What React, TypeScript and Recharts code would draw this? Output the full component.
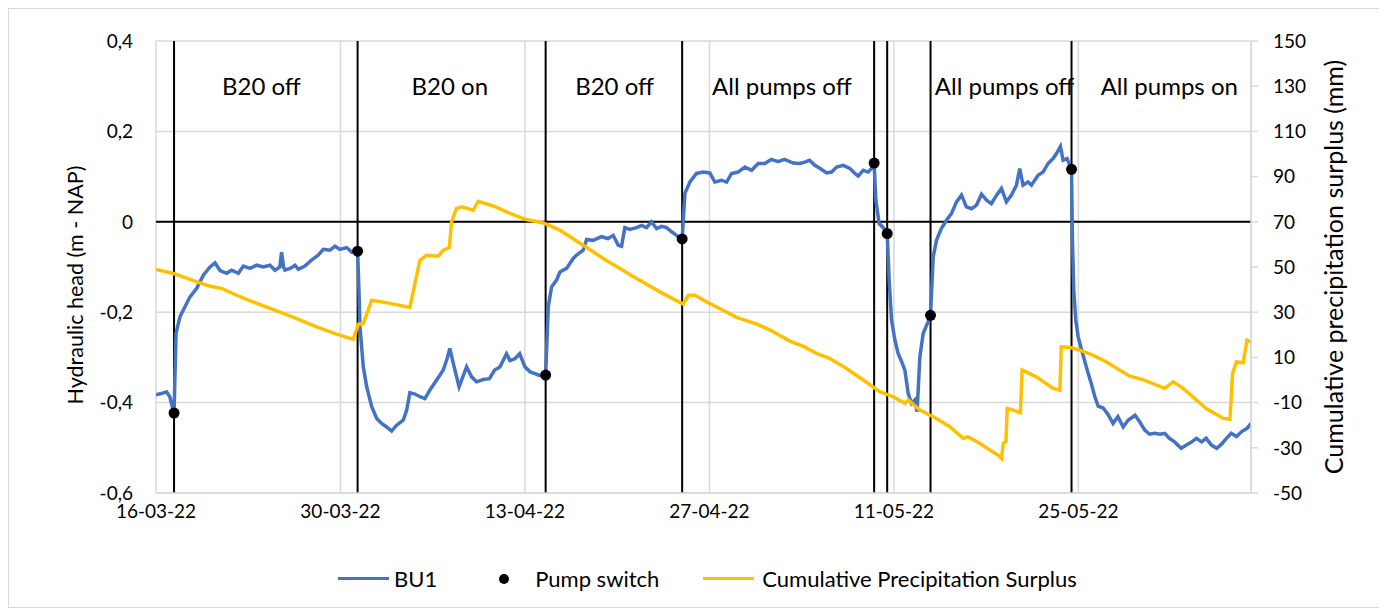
import React from "react";
import {
  ComposedChart,
  Line,
  Scatter,
  XAxis,
  YAxis,
  CartesianGrid,
  ReferenceLine,
  ReferenceDot,
} from "recharts";

// days since 16-03-22
const bu1Days = [
  0, 0.4, 0.8, 1.05, 1.32, 1.37, 1.52, 1.82, 2.2, 2.58, 3.09, 3.59, 4.1, 4.48, 4.86, 5.36, 5.74, 6.25, 6.63,
  7.13, 7.64, 8.14, 8.65, 9.03, 9.4, 9.53, 9.68, 9.79, 10.17, 10.55, 10.8, 11.3, 11.8, 12.3, 12.7, 13.2,
  13.58, 13.96, 14.47, 14.85, 15.3, 15.4, 15.48, 15.73, 15.99, 16.37, 16.75, 17.12, 17.5, 17.88, 18.26,
  18.76, 19.02, 19.27, 19.65, 20.03, 20.41, 20.79, 21.3, 21.8, 22.1, 22.3, 22.56, 23.0, 23.57, 23.95,
  24.33, 24.83, 25.3, 25.7, 26.1, 26.6, 26.86, 27.24, 27.6, 28.0, 28.4, 28.76, 29.1, 29.57, 29.77, 30.02,
  30.4, 30.65, 31.16, 31.66, 31.9, 32.42, 32.68, 33.18, 33.8, 34.3, 34.7, 35.08, 35.33, 35.58, 35.96,
  36.47, 36.85, 37.23, 37.6, 37.99, 38.37, 38.75, 39.13, 39.5, 39.93, 40.14, 40.52, 41.02, 41.53, 42.03,
  42.41, 42.92, 43.3, 43.68, 44.18, 44.69, 45.2, 45.7, 46.2, 46.7, 47.2, 47.7, 48.35, 48.86, 49.24, 49.6,
  50.0, 50.4, 50.9, 51.27, 51.65, 52.15, 52.66, 53.04, 53.29, 53.67, 54.05, 54.3, 54.5, 54.63, 54.88,
  55.19, 55.49, 55.64, 55.82, 56.07, 56.32, 56.58, 56.83, 57.08, 57.33, 57.59, 57.76, 57.97, 58.22, 58.6,
  58.78, 58.98, 59.23, 59.6, 60.0, 60.37, 60.75, 61.13, 61.5, 61.9, 62.27, 62.65, 63.03, 63.4, 63.79,
  64.16, 64.54, 64.92, 65.3, 65.55, 65.8, 66.18, 66.44, 66.94, 67.32, 67.7, 68.08, 68.34, 68.64, 68.84,
  69.14, 69.48, 69.55, 69.65, 69.8, 69.98, 70.24, 70.49, 70.74, 71.0, 71.24, 71.5, 71.88, 72.25, 72.63,
  73.0, 73.4, 73.77, 74.3, 74.66, 75.04, 75.4, 75.8, 76.2, 76.55, 76.9, 77.3, 77.8, 78.2, 78.6, 78.96,
  79.35, 79.7, 80.1, 80.5, 80.86, 81.24, 81.6, 82.0, 82.4, 82.8, 83.1,
];
const bu1Head = [
  -0.383, -0.38, -0.376, -0.387, -0.419, -0.423, -0.247, -0.21, -0.188, -0.166, -0.147, -0.118, -0.1, -0.091,
  -0.108, -0.114, -0.107, -0.114, -0.098, -0.103, -0.096, -0.1, -0.096, -0.107, -0.1, -0.067, -0.1, -0.107,
  -0.103, -0.096, -0.105, -0.098, -0.085, -0.074, -0.061, -0.063, -0.054, -0.061, -0.057, -0.067, -0.065,
  -0.15, -0.232, -0.321, -0.365, -0.409, -0.435, -0.446, -0.454, -0.463, -0.45, -0.439, -0.417, -0.378,
  -0.381, -0.387, -0.391, -0.372, -0.35, -0.328, -0.302, -0.28, -0.313, -0.365, -0.321, -0.343, -0.354,
  -0.349, -0.347, -0.328, -0.321, -0.292, -0.307, -0.303, -0.292, -0.321, -0.332, -0.336, -0.34, -0.339,
  -0.188, -0.144, -0.129, -0.111, -0.103, -0.081, -0.074, -0.063, -0.039, -0.041, -0.033, -0.037, -0.03,
  -0.052, -0.054, -0.013, -0.017, -0.013, -0.008, -0.013, 0.0, -0.015, -0.01, -0.013, -0.022, -0.03, -0.038,
  0.063, 0.088, 0.107, 0.11, 0.108, 0.088, 0.092, 0.088, 0.107, 0.11, 0.121, 0.114, 0.129, 0.129, 0.138,
  0.133, 0.138, 0.13, 0.129, 0.132, 0.136, 0.125, 0.118, 0.108, 0.11, 0.121, 0.125, 0.118, 0.107, 0.101,
  0.114, 0.11, 0.118, 0.129, 0.048, -0.004, -0.013, -0.026, -0.129, -0.217, -0.261, -0.291, -0.309, -0.328,
  -0.379, -0.402, -0.394, -0.42, -0.299, -0.247, -0.221, -0.207, -0.078, -0.041, -0.015, 0.004, 0.018,
  0.044, 0.059, 0.033, 0.029, 0.037, 0.061, 0.048, 0.04, 0.059, 0.074, 0.044, 0.059, 0.081, 0.118, 0.081,
  0.088, 0.081, 0.103, 0.11, 0.129, 0.14, 0.151, 0.167, 0.136, 0.14, 0.116, -0.041, -0.151, -0.217, -0.254,
  -0.283, -0.309, -0.335, -0.36, -0.386, -0.408, -0.412, -0.426, -0.446, -0.431, -0.454, -0.439, -0.428,
  -0.443, -0.461, -0.47, -0.468, -0.47, -0.468, -0.479, -0.487, -0.501, -0.494, -0.487, -0.479, -0.487,
  -0.479, -0.494, -0.501, -0.492, -0.479, -0.468, -0.475, -0.464, -0.457, -0.446,
];

const precipDays = [
  0, 1.32, 2.07, 3.09, 3.97, 4.98, 6.12, 7.64, 9.16, 10.68, 12.19, 13.7, 14.97, 15.35, 15.73, 16.37, 17.75,
  19.27, 19.65, 20.03, 20.54, 21.42, 21.8, 22.26, 22.43, 22.8, 23.2, 24.07, 24.45, 25.6, 26.86, 28.1, 29.4,
  30.65, 32.04, 33.94, 36.47, 38.24, 40.0, 40.4, 40.9, 42.0, 43.0, 44.06, 45.6, 46.6, 48.1, 49.1, 50.13,
  51.1, 52.4, 53.67, 54.93, 55.94, 56.83, 57.1, 57.97, 59.23, 60.24, 61.25, 61.6, 62.5, 63.28, 63.9, 64.16,
  64.3, 64.5, 64.6, 65.05, 65.6, 65.73, 66.8, 68.08, 68.6, 68.7, 69.35, 70.1, 71.1, 72.13, 73.9, 74.9,
  76.55, 77.2, 77.95, 79.7, 81.0, 81.5, 81.7, 82.0, 82.5, 82.8, 83.1,
];
const precipSurplus = [
  48.9, 47.1, 45.6, 43.4, 41.7, 40.5, 37.5, 33.9, 30.6, 27.2, 23.5, 20.3, 18.0, 24.7, 24.9, 35.3, 33.9, 32.1,
  42.7, 53.0, 55.2, 54.8, 57.4, 58.6, 70.0, 75.9, 76.6, 75.1, 79.1, 77.0, 73.7, 71.0, 69.5, 66.3, 61.1, 53.8,
  44.9, 39.0, 33.6, 37.5, 37.5, 33.9, 31.0, 27.7, 24.7, 22.1, 17.2, 15.0, 11.8, 9.6, 5.1, 0.0, -5.2, -7.4,
  -10.3, -8.9, -13.3, -17.0, -20.7, -25.8, -25.1, -28.0, -31.0, -33.2, -34.7, -28.0, -27.3, -12.6, -13.3,
  -14.5, 4.4, 1.4, -3.7, -4.5, 14.7, 14.4, 13.2, 11.0, 8.0, 1.7, 0.2, -3.7, -0.8, -3.7, -12.6, -17.0, -17.4,
  2.9, 8.0, 7.6, 17.6, 16.9,
];

const switchDays = [1.37, 15.3, 29.57, 39.93, 54.5, 55.49, 58.78, 69.48];
const switchHead = [-0.423, -0.065, -0.339, -0.038, 0.13, -0.026, -0.207, 0.116];

const phaseLabels = ["B20 off", "B20 on", "B20 off", "All pumps off", "All pumps off", "All pumps on"];
const phaseDays = [8.0, 22.3, 34.8, 47.5, 64.4, 76.9];
const phaseHead = 0.3;

const xTicks = [0, 14, 28, 42, 56, 70];
const xTickLabels = ["16-03-22", "30-03-22", "13-04-22", "27-04-22", "11-05-22", "25-05-22"];
const headTicks = [-0.6, -0.4, -0.2, 0, 0.2, 0.4];
const precipTicks = [-50, -30, -10, 10, 30, 50, 70, 90, 110, 130, 150];

const bu1Data = bu1Days.map((d, i) => ({ d, v: bu1Head[i] }));
const precipData = precipDays.map((d, i) => ({ d, v: precipSurplus[i] }));
const switchData = switchDays.map((d, i) => ({ d, v: switchHead[i] }));

const FONT = "Lato, 'Open Sans', sans-serif";
const GRID = "#d9d9d9";
const BLUE = "#4472C4";
const GOLD = "#FFC000";

const fmtHead = (v: number) => (v === 0 ? "0" : v.toFixed(1).replace(".", ","));

const leftTitle = (props: any) => {
  const vb = props.viewBox || { x: 47, y: 32, width: 100, height: 452 };
  const x = vb.x + 19;
  const y = vb.y + vb.height / 2 + 18;
  return (
    <text x={x} y={y} transform={`rotate(-90 ${x} ${y})`} textAnchor="middle" dominantBaseline="central"
      fontSize={21.5} fontFamily={FONT} fill="#000">
      Hydraulic head (m - NAP)
    </text>
  );
};

const rightTitle = (props: any) => {
  const vb = props.viewBox || { x: 1242, y: 32, width: 80, height: 452 };
  const x = vb.x + 82;
  const y = vb.y + vb.height / 2;
  return (
    <text x={x} y={y} transform={`rotate(-90 ${x} ${y})`} textAnchor="middle" dominantBaseline="central"
      fontSize={25} fontFamily={FONT} fill="#000">
      Cumulative precipitation surplus (mm)
    </text>
  );
};

const tickStyle = { fontSize: 19, fill: "#000", fontFamily: FONT };

export default function App() {
  return (
    <div style={{ position: "relative", width: 1370, height: 598, border: `1px solid ${GRID}`, background: "#fff", fontFamily: FONT }}>
      <ComposedChart width={1370} height={598} margin={{ top: 32, right: 48, bottom: 74, left: 47 }}>
        <CartesianGrid yAxisId="head" stroke={GRID} strokeWidth={1.5} />
        <XAxis
          type="number"
          dataKey="d"
          domain={[0, 83.1]}
          ticks={xTicks}
          interval={0}
          allowDataOverflow
          tickFormatter={(v: number) => xTickLabels[xTicks.indexOf(v)]}
          tick={tickStyle}
          tickLine={false}
          tickSize={0}
          tickMargin={12}
          axisLine={{ stroke: GRID, strokeWidth: 1.5 }}
          height={40}
        />
        <YAxis
          yAxisId="head"
          dataKey="v"
          orientation="left"
          domain={[-0.6, 0.4]}
          ticks={headTicks}
          interval={0}
          tickFormatter={fmtHead}
          tick={tickStyle}
          axisLine={false}
          tickLine={false}
          tickSize={0}
          tickMargin={23}
          width={100}
          label={leftTitle}
        />
        <YAxis
          yAxisId="precip"
          orientation="right"
          domain={[-50, 150]}
          ticks={precipTicks}
          interval={0}
          tick={tickStyle}
          axisLine={{ stroke: GRID, strokeWidth: 1.5 }}
          tickLine={{ stroke: GRID, strokeWidth: 1.5 }}
          tickSize={7}
          tickMargin={15}
          width={80}
          label={rightTitle}
        />
        <ReferenceLine yAxisId="head" y={0} stroke="#000" strokeWidth={2} />
        {switchDays.map((d) => (
          <ReferenceLine key={"s" + d} yAxisId="head" x={d} stroke="#000" strokeWidth={2} />
        ))}
        {phaseLabels.map((t, i) => (
          <ReferenceDot
            key={"p" + i}
            yAxisId="head"
            x={phaseDays[i]}
            y={phaseHead}
            r={0}
            fill="none"
            stroke="none"
            label={{ value: t, position: "center", fontSize: 24, fill: "#000", fontFamily: FONT }}
          />
        ))}
        <Line yAxisId="head" data={bu1Data} dataKey="v" type="linear" stroke={BLUE} strokeWidth={3.5}
          dot={false} activeDot={false} isAnimationActive={false} />
        <Line yAxisId="precip" data={precipData} dataKey="v" type="linear" stroke={GOLD} strokeWidth={3.5}
          dot={false} activeDot={false} isAnimationActive={false} />
        <Scatter yAxisId="head" data={switchData} dataKey="v" fill="#000" isAnimationActive={false}
          shape={(p: any) => <circle cx={p.cx} cy={p.cy} r={5.5} fill="#000" />} />
      </ComposedChart>
      <div style={{ position: "absolute", left: 329, top: 556, display: "flex", alignItems: "center", fontSize: 22, color: "#000", whiteSpace: "nowrap" }}>
        <span style={{ width: 51, height: 3.5, background: BLUE, display: "inline-block" }} />
        <span style={{ marginLeft: 5 }}>BU1</span>
        <span style={{ width: 10, height: 10, borderRadius: 5, background: "#000", display: "inline-block", marginLeft: 62 }} />
        <span style={{ marginLeft: 26 }}>Pump switch</span>
        <span style={{ width: 51, height: 3.5, background: GOLD, display: "inline-block", marginLeft: 44 }} />
        <span style={{ marginLeft: 8 }}>Cumulative Precipitation Surplus</span>
      </div>
    </div>
  );
}
